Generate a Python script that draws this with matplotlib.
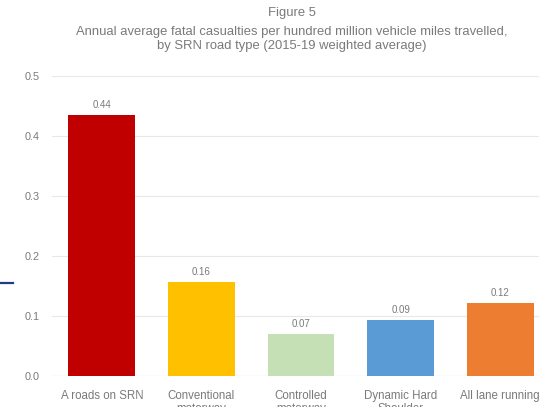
import numpy as np
import matplotlib.pyplot as plt
from matplotlib.lines import Line2D

# data
categories = ['A roads on SRN', 'Conventional\nmotorway', 'Controlled\nmotorway',
              'Dynamic Hard\nShoulder', 'All lane running']
values = [0.435, 0.157, 0.07, 0.093, 0.122]
value_labels = ['0.44', '0.16', '0.07', '0.09', '0.12']
colors = ['#C00000', '#FFC000', '#C5E0B4', '#5B9BD5', '#ED7D31']
yticks = [0.0, 0.1, 0.2, 0.3, 0.4, 0.5]

plt.rcParams['font.family'] = ['Liberation Sans', 'DejaVu Sans']
grey = '#7a7a7a'

fig = plt.figure(figsize=(5.39, 4.07), dpi=100)
# axes runs past the right edge, as in the cropped screenshot
ax = fig.add_axes([0.0965, 0.0762, 0.924, 0.737])

x = np.arange(len(categories))
ax.bar(x, values, width=0.67, color=colors, zorder=3)
for xi, v, lab in zip(x, values, value_labels):
    ax.text(xi, v + 0.008, lab, ha='center', va='bottom', fontsize=7, color=grey)

ax.set_xlim(-0.5, len(categories) - 0.5)
ax.set_ylim(0, 0.5)
ax.set_yticks(yticks)
ax.set_yticklabels(['%.1f' % t for t in yticks])
ax.set_xticks(x)
ax.set_xticklabels(categories, linespacing=1.1)
ax.tick_params(axis='y', length=0, pad=9, labelsize=7.8, labelcolor=grey)
ax.tick_params(axis='x', length=0, pad=10, labelsize=8.3, labelcolor=grey)
ax.grid(axis='y', color='#e8e8e8', linewidth=0.8, zorder=0)
for s in ax.spines.values():
    s.set_visible(False)
ax.axhline(0, color='#d6d6d6', linewidth=0.8, zorder=2)

# titles
fig.text(0.542, 0.968, 'Figure 5', ha='center', va='center', fontsize=9.4, color=grey)
fig.text(0.542, 0.921, 'Annual average fatal casualties per hundred million vehicle miles travelled,',
         ha='center', va='center', fontsize=9.4, color=grey)
fig.text(0.542, 0.886, 'by SRN road type (2015-19 weighted average)',
         ha='center', va='center', fontsize=9.4, color=grey)

# small blue marker line on the left edge
fig.add_artist(Line2D([0, 0.024], [0.304, 0.304], color='#1F3C88', linewidth=1.6))

fig.savefig('out.png', dpi=100)
